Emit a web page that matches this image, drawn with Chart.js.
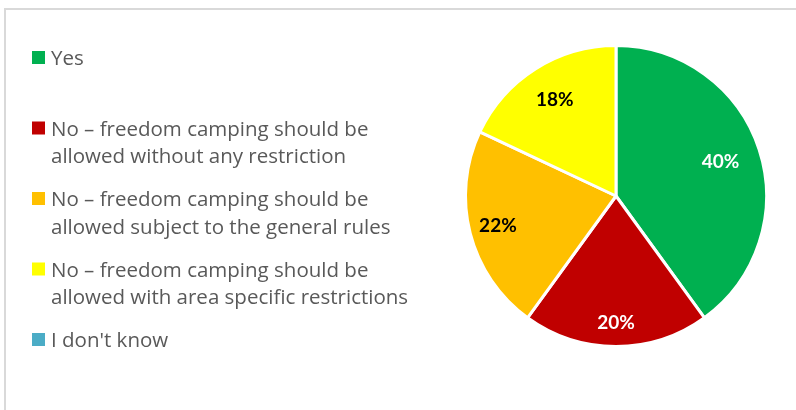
<!DOCTYPE html>
<html>
<head>
<meta charset="utf-8">
<script src="https://cdn.jsdelivr.net/npm/chart.js@4"></script>
<style>
  html, body { margin: 0; padding: 0; background: #fff; }
  #wrap { position: relative; width: 796px; height: 410px; }
  #frame { position: absolute; left: 4px; top: 8px; width: 800px; height: 410px;
           border-left: 2px solid #d9d9d9; border-top: 2px solid #d9d9d9; box-sizing: border-box; }
</style>
</head>
<body>
<div id="wrap">
  <div id="frame"></div>
  <canvas id="pie" width="796" height="410" style="position:absolute;left:0;top:0"></canvas>
</div>
<script>
// survey answers
var categories = [
  ["Yes"],
  ["No \u2013 freedom camping should be", "allowed without any restriction"],
  ["No \u2013 freedom camping should be", "allowed subject to the general rules"],
  ["No \u2013 freedom camping should be", "allowed with area specific restrictions"],
  ["I don't know"]
];
var percentages = [40, 20, 22, 18, 0];
var colores = ["#00b050", "#c00000", "#ffc000", "#ffff00", "#4bacc6"];
var labelColors = ["#ffffff", "#ffffff", "#000000", "#000000", "#000000"];

/* etiquetas dentro de las rebanadas */
var sliceLabels = {
  id: 'sliceLabels',
  afterDatasetsDraw: function(chart) {
    var ctx = chart.ctx;
    var meta = chart.getDatasetMeta(0);
    var factors = [0.73, 0.84, 0.81, 0.76, 0.8];
    ctx.save();
    ctx.font = "bold 19px Lato, 'Open Sans', sans-serif";
    ctx.textAlign = 'center';
    ctx.textBaseline = 'middle';
    meta.data.forEach(function(arc, i) {
      var v = percentages[i];
      if (!v) return;
      var p = arc.getProps(['x', 'y', 'startAngle', 'endAngle', 'outerRadius'], true);
      var mid = (p.startAngle + p.endAngle) / 2;
      var r = p.outerRadius * factors[i];
      ctx.fillStyle = labelColors[i];
      ctx.fillText(v + '%', p.x + Math.cos(mid) * r, p.y + Math.sin(mid) * r);
    });
    ctx.restore();
  }
};

/* leyenda a la izquierda */
var sideLegend = {
  id: 'sideLegend',
  afterDraw: function(chart) {
    var ctx = chart.ctx;
    ctx.save();
    ctx.font = "20.5px 'Open Sans', sans-serif";
    ctx.textBaseline = 'alphabetic';
    categories.forEach(function(lines, i) {
      var top = 51 + i * 70.5;
      ctx.fillStyle = colores[i];
      ctx.fillRect(32, top, 13, 13);
      ctx.fillStyle = '#595959';
      lines.forEach(function(line, j) {
        ctx.fillText(line, 51, top + 14 + j * 27.5);
      });
    });
    ctx.restore();
  }
};

var ctxPie = document.getElementById("pie");
var grafica = new Chart(ctxPie, {
  type: 'pie',
  data: {
    labels: categories.map(function(c) { return c.join(' '); }),
    datasets: [{
      data: percentages,
      backgroundColor: colores,
      borderColor: '#ffffff',
      borderWidth: 3
    }]
  },
  options: {
    responsive: false,
    animation: false,
    layout: { padding: { left: 464, right: 28, top: 44, bottom: 62 } },
    plugins: {
      legend: { display: false },
      tooltip: { enabled: false }
    }
  },
  plugins: [sliceLabels, sideLegend]
});
</script>
</body>
</html>
